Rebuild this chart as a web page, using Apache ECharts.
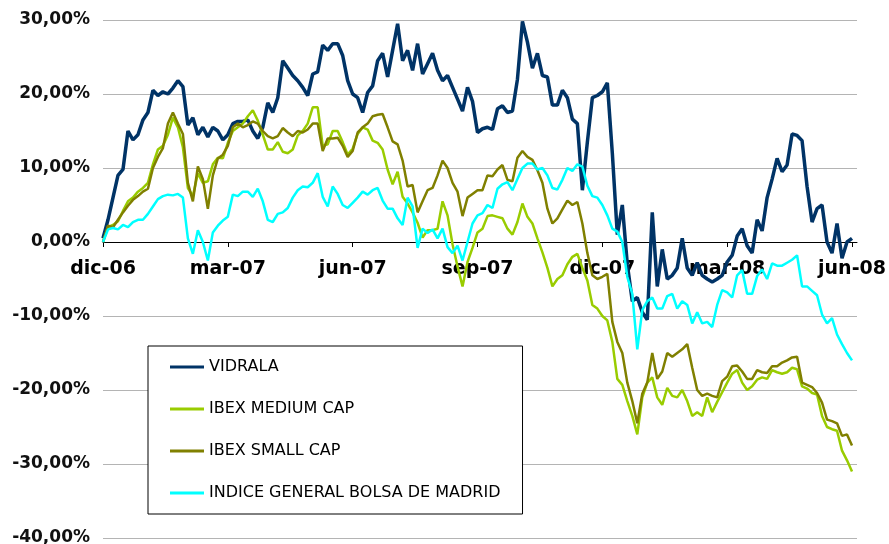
<!DOCTYPE html>
<html>
<head>
<meta charset="utf-8">
<script src="https://cdn.jsdelivr.net/npm/echarts@6/dist/echarts.min.js"></script>
<style>
  html, body { margin: 0; padding: 0; background: #fff; }
  #chart { width: 889px; height: 544px; }
</style>
</head>
<body>
<div id="chart"></div>
<script>
// etiquetas del eje x (una cada 25 puntos)
var xLabels = ['dic-06', 'mar-07', 'jun-07', 'sep-07', 'dic-07', 'mar-08', 'jun-08'];
var stepsPerLabel = 25;

var seriesNames = ['VIDRALA', 'IBEX MEDIUM CAP', 'IBEX SMALL CAP', 'INDICE GENERAL BOLSA DE MADRID'];

// rentabilidad acumulada (%)
var vidrala = [
    0.5, 3.0, 6.0, 9.0, 9.8, 15.0, 13.8, 14.5, 16.5, 17.5,
    20.5, 19.8, 20.3, 20.0, 20.8, 21.8, 21.0, 15.8, 16.8, 14.5,
    15.5, 14.2, 15.5, 15.0, 13.8, 14.5, 16.0, 16.3, 16.3, 16.5,
    15.0, 14.0, 15.5, 18.8, 17.5, 19.5, 24.5, 23.5, 22.5, 21.8,
    20.9, 19.8, 22.7, 23.0, 26.6, 25.9, 26.8, 26.8, 25.2, 21.8,
    20.0, 19.5, 17.5, 20.2, 21.1, 24.5, 25.5, 22.3, 25.9, 29.5,
    24.5, 25.9, 23.2, 26.8, 22.7, 24.1, 25.5, 23.2, 21.8, 22.5,
    20.9, 19.3, 17.7, 20.9, 19.0, 14.8, 15.3, 15.5, 15.2, 18.0,
    18.4, 17.5, 17.7, 22.0, 29.8, 27.0, 23.5, 25.5, 22.5, 22.3,
    18.5, 18.5, 20.5, 19.5, 16.6, 16.0, 7.0, 13.5, 19.5, 19.8,
    20.3, 21.5, 12.0, 1.0, 5.0, -3.0, -8.0, -7.5, -9.5, -10.5,
    4.0, -6.0, -1.0, -5.0, -4.5, -3.5, 0.5, -3.5, -4.5, -2.8,
    -4.5, -5.0, -5.4, -5.0, -4.5, -2.7, -1.8, 0.8, 1.8, -0.5,
    -1.5, 3.0, 1.5, 6.0, 8.5, 11.3, 9.5, 10.4, 14.6, 14.4,
    13.7, 7.5, 2.7, 4.5, 5.0, 0.0, -1.5, 2.5, -2.2, 0.0,
    0.5
];

var ibexMedium = [
    0, 2.0, 2.3, 2.8, 4.2, 5.5, 6.0, 6.8, 7.3, 8.0,
    10.5, 12.5, 13.0, 14.5, 16.8, 15.5, 12.8, 7.3, 6.2, 9.3,
    8.0, 8.2, 10.5, 11.4, 11.3, 13.4, 15.0, 15.5, 16.0, 17.0,
    17.8, 16.4, 14.5, 12.5, 12.5, 13.5, 12.2, 12.0, 12.5, 14.4,
    15.0, 16.0, 18.2, 18.2, 13.0, 13.2, 15.0, 15.0, 13.5, 11.8,
    12.6, 14.6, 15.5, 15.2, 13.7, 13.4, 12.5, 9.8, 7.8, 9.5,
    6.1, 5.2, 4.0, 2.6, 0.6, 1.6, 1.6, 1.8, 5.5, 3.6,
    -0.3, -3.3, -6.0, -2.7, -0.8, 1.3, 1.8, 3.5, 3.6, 3.4,
    3.2, 1.8, 1.0, 2.7, 5.2, 3.4, 2.5, 0.5, -1.4, -3.5,
    -6.0, -5.0, -4.5, -3.0, -2.0, -1.6, -3.5, -5.2, -8.5, -9.0,
    -10.0, -10.6, -13.5, -18.5, -19.3, -21.5, -23.5, -26.0, -21.0, -19.0,
    -18.3, -21.0, -22.0, -19.7, -20.8, -21.0, -20.0, -21.5, -23.5, -23.0,
    -23.5, -21.0, -23.0, -21.6, -20.3, -19.0, -17.8, -17.3, -19.0, -20.0,
    -19.5, -18.6, -18.3, -18.5, -17.3, -17.6, -17.8, -17.6, -17.0, -17.2,
    -19.5, -19.8, -20.4, -20.6, -23.5, -25.0, -25.3, -25.5, -28.2, -29.5,
    -31.0
];

var ibexSmall = [
    0, 2.2, 2.0, 3.0, 4.0, 4.9, 5.7, 6.2, 6.8, 7.2,
    10.0, 11.5, 12.7, 16.0, 17.5, 16.0, 14.6, 8.0, 5.5, 10.2,
    8.5, 4.5, 9.0, 11.3, 11.8, 13.0, 15.5, 16.0, 15.5, 15.8,
    16.3, 16.0, 15.0, 14.3, 14.0, 14.3, 15.4, 14.8, 14.3, 15.0,
    14.8, 15.2, 16.0, 16.0, 12.3, 14.0, 14.0, 14.1, 13.0, 11.5,
    12.3, 14.8, 15.5, 16.0, 17.0, 17.2, 17.3, 15.5, 13.6, 13.2,
    11.0, 7.5, 7.7, 4.0, 5.5, 7.0, 7.3, 9.0, 11.0, 10.0,
    8.0, 6.8, 3.5, 6.0, 6.5, 7.0, 7.0, 9.0, 8.9, 9.8,
    10.4, 8.4, 8.2, 11.4, 12.3, 11.5, 11.1, 9.7, 8.0, 4.5,
    2.5, 3.2, 4.4, 5.6, 5.0, 5.4, 2.5, -1.5, -4.5, -5.0,
    -4.7, -4.3, -10.8, -13.5, -15.0, -19.0, -21.5, -24.5, -20.5, -19.0,
    -15.0, -18.5, -17.5, -15.0, -15.5, -15.0, -14.5, -13.8, -17.0, -20.0,
    -20.8, -20.5, -20.8, -21.0, -18.8, -18.2, -16.8, -16.7, -17.5, -18.5,
    -18.5, -17.3, -17.6, -17.7, -16.8, -16.8, -16.3, -16.0, -15.6, -15.5,
    -19.0, -19.3, -19.6, -20.4, -21.7, -24.0, -24.2, -24.5, -26.2, -26.0,
    -27.5
];

var igbm = [
    0, 1.7, 1.9, 1.7, 2.3, 2.0, 2.7, 3.0, 3.0, 3.8,
    4.8, 5.8, 6.2, 6.4, 6.3, 6.5, 6.0, 0.5, -1.6, 1.6,
    0.0, -2.5, 1.3, 2.2, 2.9, 3.4, 6.4, 6.2, 6.8, 6.8,
    6.1, 7.2, 5.5, 3.0, 2.7, 3.8, 4.0, 4.6, 6.0, 7.0,
    7.5, 7.4, 8.0, 9.3, 6.1, 4.8, 7.5, 6.5, 5.0, 4.6,
    5.3, 6.0, 6.8, 6.4, 7.0, 7.3, 5.6, 4.5, 4.5, 3.2,
    2.3, 6.0, 4.8, -0.8, 1.8, 1.2, 1.7, 0.5, 1.8, -0.7,
    -1.5, -0.5, -2.5, 0.0, 2.5, 3.6, 3.9, 5.0, 4.6, 7.2,
    7.8, 8.1, 7.0, 8.5, 10.0, 10.6, 10.6, 9.8, 10.0, 9.0,
    7.3, 7.1, 8.4, 10.0, 9.6, 10.5, 10.2, 7.6, 6.2, 6.0,
    5.0, 3.6, 1.8, 1.4, 0.0, -4.7, -7.0, -14.5, -9.2, -8.0,
    -7.5, -9.0, -9.0, -7.3, -7.0, -9.0, -8.0, -8.5, -11.0, -9.5,
    -11.0, -10.8, -11.5, -8.5, -6.5, -6.8, -7.5, -4.5, -3.8, -7.0,
    -7.0, -4.6, -3.7, -5.0, -2.9, -3.2, -3.2, -2.8, -2.4, -1.8,
    -6.0, -6.0, -6.6, -7.2, -9.8, -11.0, -10.3, -12.5, -13.8, -15.0,
    -16.0
];

var colors = ['#003366', '#99CC00', '#808000', '#00FFFF'];
var widths = [3.5, 2.5, 2.5, 2.5];
var font = 'DejaVu Sans';

initChart();

function initChart() {
    var myChart = echarts.init(document.getElementById('chart'));

    var labelValues = xLabels.map(function (l, k) { return k * stepsPerLabel; });

    function toPairs(arr) {
        return arr.map(function (v, i) { return [i, v]; });
    }

    var allData = [vidrala, ibexMedium, ibexSmall, igbm];

    var option = {
        animation: false,
        backgroundColor: '#fff',
        color: colors,
        grid: { left: 103, right: 32, top: 20, bottom: 6, containLabel: false, outerBoundsMode: 'none' },
        legend: {
            data: seriesNames,
            orient: 'vertical',
            left: 148,
            top: 346,
            icon: 'rect',
            itemWidth: 34,
            itemHeight: 3,
            itemGap: 22,
            padding: [11, 22, 11, 22],
            borderColor: '#000',
            borderWidth: 1,
            backgroundColor: '#fff',
            textStyle: { fontFamily: font, fontSize: 16, color: '#000', lineHeight: 20 }
        },
        xAxis: {
            type: 'value',
            min: 0,
            max: 151,
            interval: stepsPerLabel,
            axisLine: { onZero: true, onZeroAxisIndex: 0, lineStyle: { color: '#000', width: 1 } },
            axisTick: { show: true, length: 5, customValues: labelValues, lineStyle: { color: '#000' } },
            axisLabel: {
                customValues: labelValues,
                // las etiquetas quedan en el borde inferior: se suben hasta el 0%
                margin: -278,
                fontFamily: font,
                fontSize: 19,
                fontWeight: 'bold',
                color: '#000',
                formatter: function (v) { return xLabels[Math.round(v / stepsPerLabel)] || ''; }
            },
            splitLine: { show: false }
        },
        yAxis: {
            type: 'value',
            min: -40,
            max: 30,
            interval: 10,
            axisLine: { show: false, onZero: false },
            axisTick: { show: false },
            axisLabel: {
                margin: 13,
                fontFamily: font,
                fontSize: 17,
                fontWeight: 'bold',
                color: '#111',
                formatter: function (v) { return v.toFixed(2).replace('.', ',') + '%'; }
            },
            splitLine: { lineStyle: { color: '#b4b4b4', width: 1 } }
        },
        series: seriesNames.map(function (name, k) {
            return {
                name: name,
                type: 'line',
                symbol: 'none',
                data: toPairs(allData[k]),
                lineStyle: { color: colors[k], width: widths[k] },
                itemStyle: { color: colors[k] }
            };
        })
    };

    myChart.setOption(option);
}
</script>
</body>
</html>
